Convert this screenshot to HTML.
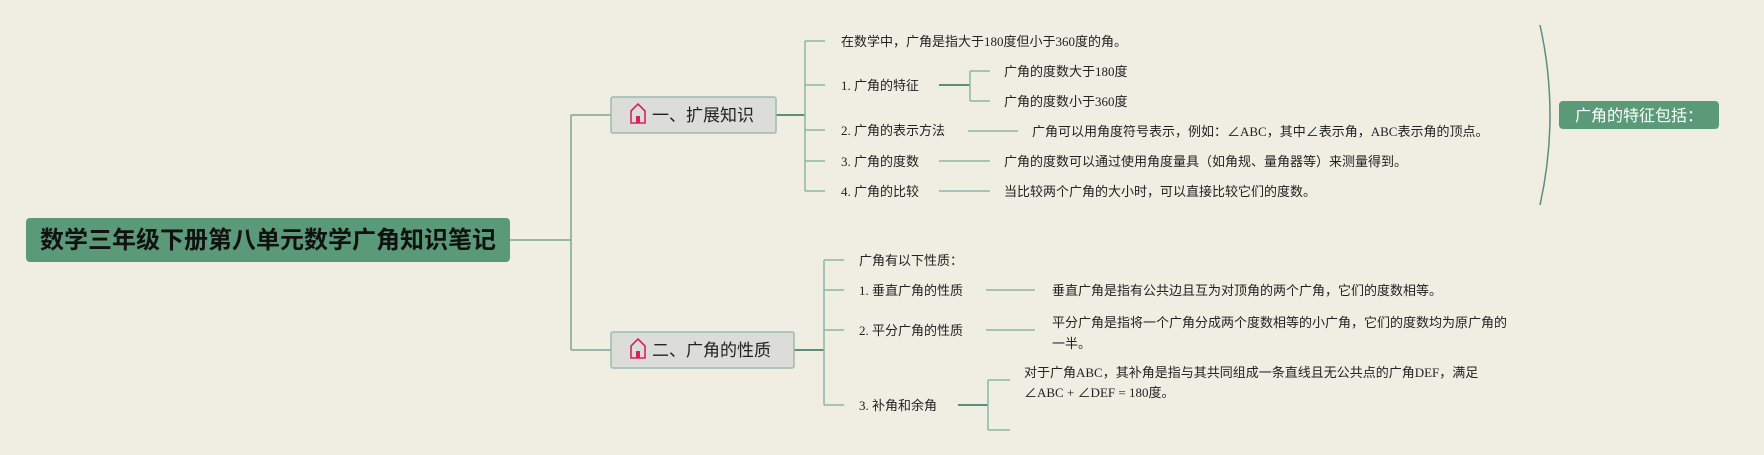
<!DOCTYPE html>
<html><head><meta charset="utf-8"><style>
html,body{margin:0;padding:0;background:#f0ede3;}
svg{display:block}
text{font-family:"Liberation Sans","Noto Sans CJK SC",sans-serif;fill:#222;}
.s text{font-family:"Liberation Serif","Noto Sans CJK SC",serif;}
</style></head><body>
<svg width="1764" height="455" viewBox="0 0 1764 455" xmlns="http://www.w3.org/2000/svg">
<rect width="1764" height="455" fill="#f0ede3"/>
<g fill="none" stroke="#8cb8a4" stroke-width="1.5">
<path d="M510 240 H571 M571 115 V350 M571 115 H611 M571 350 H611" stroke="#7aa894"/>
<path d="M776 115 H805" stroke="#5b8f79" stroke-width="2"/>
<path d="M805 41 V191 M805 41 H825 M805 85 H825 M805 130 H825 M805 161 H825 M805 191 H825"/>
<path d="M939 85 H970" stroke="#5b8f79" stroke-width="2"/>
<path d="M970 71 V101 M970 71 H990 M970 101 H990"/>
<path d="M968 131 H1018 M939 161 H990 M939 191 H990"/>
<path d="M1540 25 Q1560 115 1540 205" stroke="#5b8f79"/>
<path d="M794 350 H824" stroke="#5b8f79" stroke-width="2"/>
<path d="M824 260 V405 M824 260 H844 M824 290 H844 M824 330 H844 M824 405 H844"/>
<path d="M986 290 H1035 M986 330 H1035"/>
<path d="M958 405 H988" stroke="#5b8f79" stroke-width="2"/>
<path d="M988 380 V430 M988 380 H1010 M988 430 H1010"/>
</g>
<rect x="26" y="218" width="484" height="44" rx="4" fill="#5a9a78"/>
<text x="268" y="248" text-anchor="middle" font-size="24" font-weight="bold" style="fill:#111">数学三年级下册第八单元数学广角知识笔记</text>
<rect x="611" y="97" width="165" height="36" rx="2" fill="#dcdcd8" stroke="#9bbcae" stroke-width="1.5"/>
<rect x="611" y="332" width="183" height="36" rx="2" fill="#dcdcd8" stroke="#9bbcae" stroke-width="1.5"/>
<g fill="none" stroke="#d6245a" stroke-width="1.6">
<path d="M631 123 V111 L638 104 L645 111 V123 Z"/><rect x="636" y="116" width="4" height="7" fill="#d6245a" stroke="none"/>
<path d="M631 358 V346 L638 339 L645 346 V358 Z"/><rect x="636" y="351" width="4" height="7" fill="#d6245a" stroke="none"/>
</g>
<text x="652" y="121" font-size="17">一、扩展知识</text>
<text x="652" y="356" font-size="17">二、广角的性质</text>
<g font-size="13" class="s">
<text x="841" y="46">在数学中，广角是指大于180度但小于360度的角。</text>
<text x="841" y="90">1. 广角的特征</text>
<text x="1004" y="76">广角的度数大于180度</text>
<text x="1004" y="106">广角的度数小于360度</text>
<text x="841" y="135">2. 广角的表示方法</text>
<text x="1032" y="136">广角可以用角度符号表示，例如：∠ABC，其中∠表示角，ABC表示角的顶点。</text>
<text x="841" y="166">3. 广角的度数</text>
<text x="1004" y="166">广角的度数可以通过使用角度量具（如角规、量角器等）来测量得到。</text>
<text x="841" y="196">4. 广角的比较</text>
<text x="1004" y="196">当比较两个广角的大小时，可以直接比较它们的度数。</text>
<text x="859" y="265">广角有以下性质：</text>
<text x="859" y="295">1. 垂直广角的性质</text>
<text x="1052" y="295">垂直广角是指有公共边且互为对顶角的两个广角，它们的度数相等。</text>
<text x="859" y="335">2. 平分广角的性质</text>
<text x="1052" y="327">平分广角是指将一个广角分成两个度数相等的小广角，它们的度数均为原广角的</text>
<text x="1052" y="348">一半。</text>
<text x="859" y="410">3. 补角和余角</text>
<text x="1024" y="377">对于广角ABC，其补角是指与其共同组成一条直线且无公共点的广角DEF，满足</text>
<text x="1024" y="397">∠ABC + ∠DEF = 180度。</text>
</g>
<rect x="1559" y="101" width="160" height="28" rx="4" fill="#5a9a78"/>
<text x="1639" y="121" text-anchor="middle" font-size="16" style="fill:#fff">广角的特征包括：</text>
</svg>
</body></html>
